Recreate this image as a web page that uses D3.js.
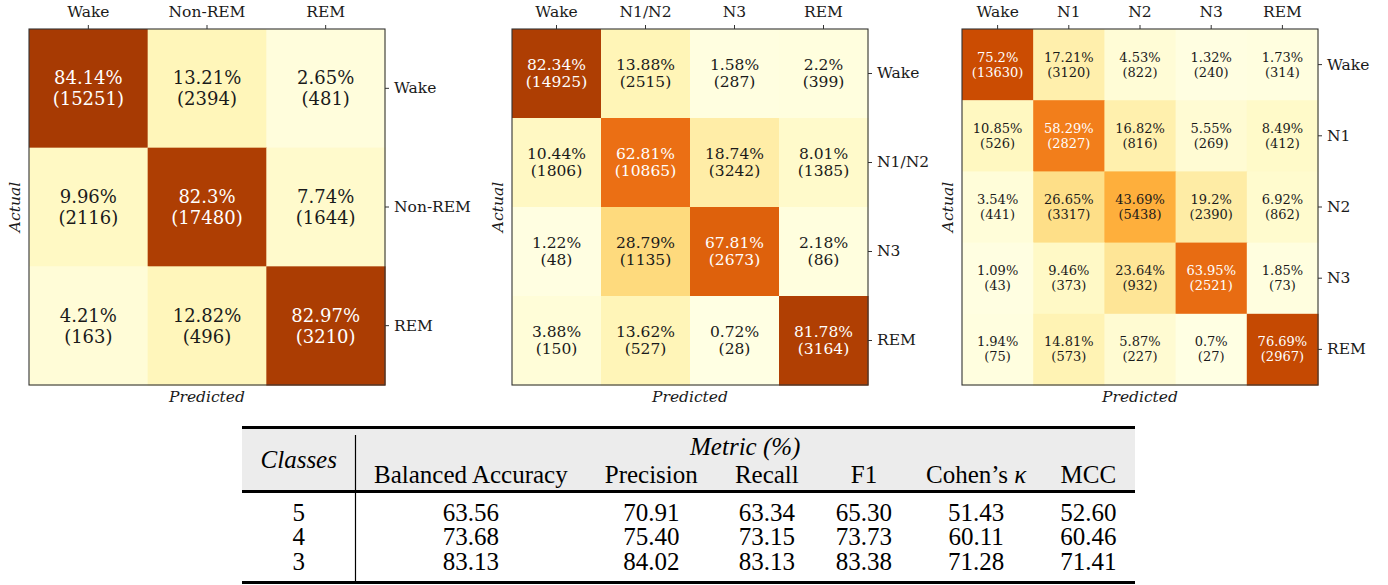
<!DOCTYPE html>
<html>
<head>
<meta charset="utf-8">
<script src="https://cdn.jsdelivr.net/npm/d3@7"></script>
<style>
  html, body { margin: 0; padding: 0; background: #fff; }
  svg { display: block; }
</style>
</head>
<body>
<script>
// ---- Confusion matrices: row = actual stage, column = predicted stage ----
const stages3 = ["Wake", "Non-REM", "REM"];
const pct3 = [
  [84.14, 13.21, 2.65],
  [9.96, 82.3, 7.74],
  [4.21, 12.82, 82.97]
];
const count3 = [
  [15251, 2394, 481],
  [2116, 17480, 1644],
  [163, 496, 3210]
];

const stages4 = ["Wake", "N1/N2", "N3", "REM"];
const pct4 = [
  [82.34, 13.88, 1.58, 2.2],
  [10.44, 62.81, 18.74, 8.01],
  [1.22, 28.79, 67.81, 2.18],
  [3.88, 13.62, 0.72, 81.78]
];
const count4 = [
  [14925, 2515, 287, 399],
  [1806, 10865, 3242, 1385],
  [48, 1135, 2673, 86],
  [150, 527, 28, 3164]
];

const stages5 = ["Wake", "N1", "N2", "N3", "REM"];
const pct5 = [
  [75.2, 17.21, 4.53, 1.32, 1.73],
  [10.85, 58.29, 16.82, 5.55, 8.49],
  [3.54, 26.65, 43.69, 19.2, 6.92],
  [1.09, 9.46, 23.64, 63.95, 1.85],
  [1.94, 14.81, 5.87, 0.7, 76.69]
];
const count5 = [
  [13630, 3120, 822, 240, 314],
  [526, 2827, 816, 269, 412],
  [441, 3317, 5438, 2390, 862],
  [43, 373, 932, 2521, 73],
  [75, 573, 227, 27, 2967]
];

// ---- Metrics table ----
const classCounts = ["5", "4", "3"];
const metricNames = ["Balanced Accuracy", "Precision", "Recall", "F1", "Cohen’s", "MCC"];
const balancedAccuracy = [63.56, 73.68, 83.13];
const precision = [70.91, 75.40, 84.02];
const recall = [63.34, 73.15, 83.13];
const f1 = [65.30, 73.73, 83.38];
const cohenKappa = [51.43, 60.11, 71.28];
const mcc = [52.60, 60.46, 71.41];

// ---- Page ----
const W = 1388, H = 585;
const svg = d3.select("body").append("svg")
  .attr("width", W).attr("height", H)
  .attr("viewBox", `0 0 ${W} ${H}`);
svg.append("rect").attr("width", W).attr("height", H).attr("fill", "#fff");

// YlOrBr, piecewise linear between the nine ColorBrewer anchors, 0..100 %
const ylorbr = ["#ffffe5", "#fff7bc", "#fee391", "#fec44f", "#fe9929",
                "#ec7014", "#cc4c02", "#993404", "#662506"];
const color = d3.scaleLinear()
  .domain(d3.range(9).map(i => i * 100 / 8))
  .range(ylorbr)
  .interpolate(d3.interpolateRgb)
  .clamp(true);

const SERIF = "'DejaVu Serif', serif";
const INK = "#1a1a1a";
const FRAME = "#333";
const matSize = 356;
const matTop = 29;

function drawMatrix(left, labels, pct, counts, fontSize) {
  const g = svg.append("g").attr("transform", `translate(${left},${matTop})`);
  const x = d3.scaleBand().domain(labels).range([0, matSize]);
  const y = d3.scaleBand().domain(labels).range([0, matSize]);

  const cells = pct.flatMap((row, i) => row.map((v, j) => ({
    actual: labels[i], predicted: labels[j], pct: v, count: counts[i][j]
  })));

  g.selectAll("rect.cell").data(cells).join("rect")
    .attr("class", "cell")
    .attr("x", d => x(d.predicted))
    .attr("y", d => y(d.actual))
    .attr("width", x.bandwidth() + 0.6)
    .attr("height", y.bandwidth() + 0.6)
    .attr("fill", d => color(d.pct));

  const half = fontSize * 0.575;
  const labelsG = g.selectAll("g.lbl").data(cells).join("g")
    .attr("class", "lbl")
    .attr("transform", d => `translate(${x(d.predicted) + x.bandwidth() / 2},${y(d.actual) + y.bandwidth() / 2})`)
    .attr("font-family", SERIF)
    .attr("font-size", fontSize)
    .attr("text-anchor", "middle")
    .attr("fill", d => d.pct > 50 ? "#fff" : INK);
  labelsG.append("text").attr("y", -half).attr("dominant-baseline", "central")
    .text(d => `${d.pct}%`);
  labelsG.append("text").attr("y", half).attr("dominant-baseline", "central")
    .text(d => `(${d.count})`);

  // frame
  g.append("rect").attr("x", 0).attr("y", 0).attr("width", matSize).attr("height", matSize)
    .attr("fill", "none").attr("stroke", FRAME).attr("stroke-width", 1.1);

  // predicted labels along the top, actual labels on the right
  const axT = g.append("g").call(d3.axisTop(x).tickSize(4).tickPadding(8));
  const axR = g.append("g").attr("transform", `translate(${matSize},0)`)
    .call(d3.axisRight(y).tickSize(4).tickPadding(5));
  [axT, axR].forEach(a => {
    a.select(".domain").remove();
    a.attr("font-family", SERIF).attr("font-size", 15.5);
    a.selectAll("line").attr("stroke", FRAME);
    a.selectAll("text").attr("fill", INK);
  });

  g.append("text")
    .attr("transform", `translate(-14,${matSize / 2}) rotate(-90)`)
    .attr("text-anchor", "middle").attr("dominant-baseline", "central")
    .attr("font-family", SERIF).attr("font-style", "italic").attr("font-size", 15.5)
    .attr("fill", INK).text("Actual");
  g.append("text")
    .attr("x", matSize / 2).attr("y", 373)
    .attr("text-anchor", "middle")
    .attr("font-family", SERIF).attr("font-style", "italic").attr("font-size", 15.5)
    .attr("fill", INK).text("Predicted");
}

drawMatrix(29, stages3, pct3, count3, 18);
drawMatrix(512, stages4, pct4, count4, 15.5);
drawMatrix(962, stages5, pct5, count5, 13);

// ---- Table ----
const TSERIF = "'Liberation Serif', 'Times New Roman', serif";
const TFS = 25;
const tLeft = 242, tRight = 1135;
const ruleTop = 426, headTop = 429, ruleMid = 490, ruleBot = 581;
const metricCols = [balancedAccuracy, precision, recall, f1, cohenKappa, mcc];
const rowBase = [520.5, 545, 570];

const tg = svg.append("g").attr("font-family", TSERIF).attr("font-size", TFS).attr("fill", "#000");

// header background
tg.append("rect").attr("x", tLeft).attr("y", headTop)
  .attr("width", tRight - tLeft).attr("height", ruleMid - headTop).attr("fill", "#ececec");

// measure columns
function measure(str, italic) {
  const t = tg.append("text").attr("font-style", italic ? "italic" : null).text(str);
  const w = t.node().getComputedTextLength();
  t.remove();
  return w;
}
const colTexts = [
  { head: "Classes", italic: true, cells: classCounts },
  ...metricNames.map((m, k) => ({ head: m, italic: false, cells: metricCols[k].map(v => v.toFixed(2)) }))
];
const kappaW = measure(" κ", true);
const widths = colTexts.map((c, k) => Math.max(
  measure(c.head, c.italic) + (k === 5 ? kappaW : 0),
  ...c.cells.map(s => measure(s, false))
));
const pad = ((tRight - tLeft) - d3.sum(widths)) / (2 * widths.length);
const colX = [];
let cursor = tLeft;
widths.forEach(w => { colX.push(cursor + pad + w / 2); cursor += w + 2 * pad; });
const vRuleX = tLeft + widths[0] + 2 * pad;

// header texts
tg.append("text").attr("x", colX[0]).attr("y", 468).attr("text-anchor", "middle")
  .attr("font-style", "italic").text("Classes");
tg.append("text").attr("x", (vRuleX + tRight) / 2).attr("y", 455).attr("text-anchor", "middle")
  .attr("font-style", "italic").text("Metric (%)");
metricNames.forEach((m, k) => {
  const t = tg.append("text").attr("x", colX[k + 1]).attr("y", 483).attr("text-anchor", "middle");
  t.append("tspan").text(m);
  if (k === 4) t.append("tspan").attr("font-style", "italic").text(" κ");
});

// body rows
classCounts.forEach((c, r) => {
  tg.append("text").attr("x", colX[0]).attr("y", rowBase[r]).attr("text-anchor", "middle").text(c);
  metricCols.forEach((col, k) => {
    tg.append("text").attr("x", colX[k + 1]).attr("y", rowBase[r]).attr("text-anchor", "middle")
      .text(col[r].toFixed(2));
  });
});

// rules
tg.append("rect").attr("x", tLeft).attr("y", ruleTop).attr("width", tRight - tLeft).attr("height", 3).attr("fill", "#000");
tg.append("rect").attr("x", tLeft).attr("y", ruleMid).attr("width", tRight - tLeft).attr("height", 3).attr("fill", "#000");
tg.append("rect").attr("x", tLeft).attr("y", ruleBot).attr("width", tRight - tLeft).attr("height", 3).attr("fill", "#000");
tg.append("line").attr("x1", vRuleX).attr("x2", vRuleX).attr("y1", 435).attr("y2", ruleBot)
  .attr("stroke", "#000").attr("stroke-width", 1.2);
</script>
</body>
</html>
